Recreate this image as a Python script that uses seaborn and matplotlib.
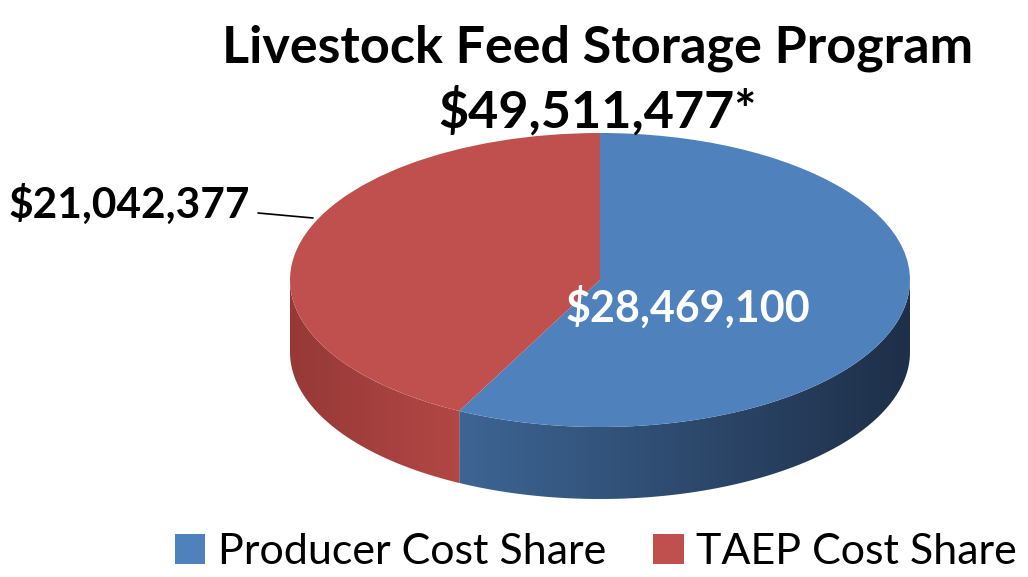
import numpy as np
import matplotlib.pyplot as plt
import matplotlib.colors as mcolors
import seaborn as sns

# chart data
labels = ["Producer Cost Share", "TAEP Cost Share"]
values = [28469100, 21042377]
value_labels = ["$28,469,100", "$21,042,377"]
title_lines = ["Livestock Feed Storage Program", "$49,511,477*"]

top_colors = ["#4f81bd", "#c0504d"]
side_colors = [("#3d6594", "#1e2f48"), ("#963937", "#b24745")]  # left -> right

sns.set_theme(style="white")
plt.rcParams["font.family"] = ["Lato", "DejaVu Sans"]
plt.rcParams["text.color"] = "black"

W, H = 1028, 577
fig = plt.figure(figsize=(W / 100, H / 100), dpi=100)
ax = fig.add_axes([0, 0, 1, 1])

# ellipse geometry in pixels (top face centre, radii, side depth)
cx, cy, rx, ry, depth = 600, 280, 310, 147, 72
d = depth / ry

total = sum(values)
bounds = [90.0]
for v in values:
    bounds.append(bounds[-1] - 360 * v / total)

# side walls of the 3D pie (only the front half shows)
for i, (a, b) in enumerate(zip(bounds[:-1], bounds[1:])):
    lo, hi = max(b, -180), min(a, 0)
    if hi <= lo:
        continue
    t = np.radians(np.linspace(lo, hi, 200))
    xs = np.concatenate([np.cos(t), np.cos(t[::-1])])
    ys = np.concatenate([np.sin(t), np.sin(t[::-1]) - d])
    poly = plt.Polygon(np.column_stack([xs, ys]), closed=True,
                       facecolor="none", edgecolor="none")
    ax.add_patch(poly)
    cmap = mcolors.LinearSegmentedColormap.from_list("side%d" % i, side_colors[i])
    grad = np.linspace(0, 1, 256).reshape(1, -1)
    im = ax.imshow(grad, cmap=cmap, aspect="auto", origin="lower",
                   extent=[xs.min(), xs.max(), ys.min(), ys.max()], zorder=0)
    im.set_clip_path(poly)

# top face
wedges, _ = ax.pie(values, colors=top_colors, startangle=90, counterclock=False,
                   radius=1, center=(0, 0), wedgeprops=dict(linewidth=0))
ax.set_aspect("auto")
ax.set_xlim((0 - cx) / rx, (W - cx) / rx)
ax.set_ylim((cy - H) / ry, (cy - 0) / ry)
ax.axis("off")

def px(x, y):
    return (x - cx) / rx, (cy - y) / ry

# data labels
ax.text(*px(688, 307), value_labels[0], color="white", fontsize=31,
        fontweight="bold", ha="center", va="center")
ax.text(*px(250, 218), value_labels[1], color="black", fontsize=30.5,
        fontweight="bold", ha="right", va="baseline")
lx0, ly0 = px(258, 213)
lx1, ly1 = px(313, 218)
ax.plot([lx0, lx1], [ly0, ly1], color="black", lw=1.2)

# titles
fig.text(598 / W, 1 - 62 / H, title_lines[0], fontsize=37.5, fontweight="bold",
         ha="center", va="baseline")
fig.text(598 / W, 1 - 128 / H, title_lines[1], fontsize=37.5, fontweight="bold",
         ha="center", va="baseline")

# legend
fig.legend(wedges, labels, loc="center", bbox_to_anchor=(596 / W, 1 - 552 / H),
           ncol=2, frameon=False, fontsize=31, handlelength=0.7, handleheight=0.7,
           handletextpad=0.3, columnspacing=1.1, borderaxespad=0)

fig.savefig("out.png", dpi=100)
